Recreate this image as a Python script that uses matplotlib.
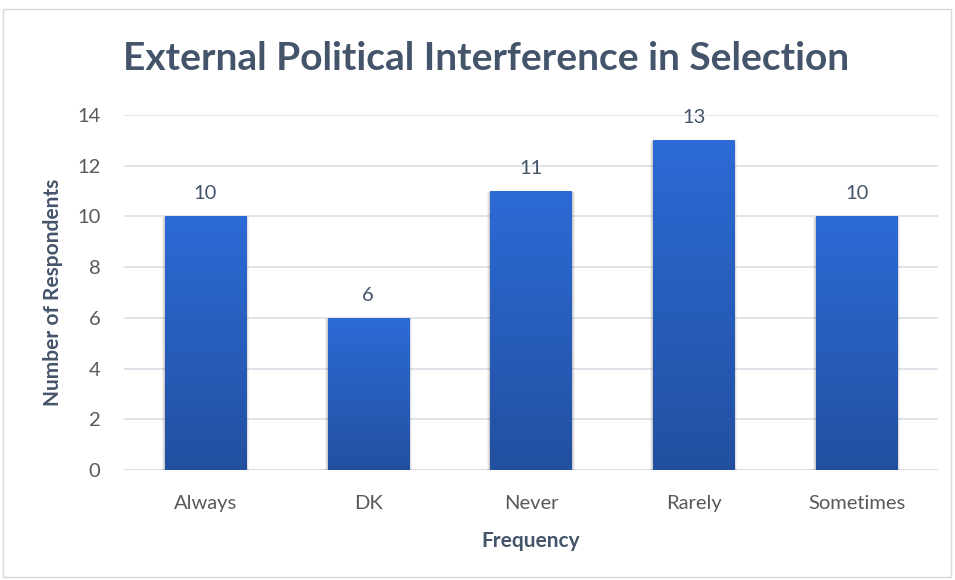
import numpy as np
import matplotlib
matplotlib.use("Agg")
import matplotlib.pyplot as plt
from matplotlib.patches import Rectangle
from matplotlib.colors import LinearSegmentedColormap

categories = ["Always", "DK", "Never", "Rarely", "Sometimes"]
respondents = [10, 6, 11, 13, 10]
y_ticks = [0, 2, 4, 6, 8, 10, 12, 14]

title_text = "External Political Interference in Selection"
x_title = "Frequency"
y_title = "Number of Respondents"

text_color = "#44546A"
tick_color = "#595959"
grid_color = "#D9DEE6"
font = "Lato"

fig = plt.figure(figsize=(9.55, 5.8), dpi=100)

# outer chart frame
fig.patches.append(Rectangle((3 / 955, 3 / 580), 948 / 955, 568 / 580,
                             transform=fig.transFigure, fill=False,
                             edgecolor="#D9D9D9", linewidth=1.0))

ax = fig.add_axes([124 / 955, 110 / 580, 814 / 955, 355 / 580])

for s in ax.spines.values():
    s.set_visible(False)
ax.set_yticks(y_ticks)
ax.yaxis.grid(True, color=grid_color, linewidth=1.2)
ax.set_axisbelow(True)
ax.axhline(0, color=grid_color, linewidth=1.5, zorder=1)
ax.tick_params(length=0)
ax.tick_params(axis="y", pad=17, labelsize=14.5, labelcolor=tick_color)
ax.tick_params(axis="x", pad=18, labelsize=14.5, labelcolor=tick_color)
ax.set_xticks(range(len(categories)))
ax.set_xticklabels(categories, fontfamily=font)
for lbl in ax.get_yticklabels():
    lbl.set_fontfamily(font)

cmap = LinearSegmentedColormap.from_list("bar", ["#2250A0", "#2C6AD6"])
grad = np.linspace(0, 1, 256).reshape(-1, 1)
width = 0.5
bars = ax.bar(range(len(categories)), respondents, width=width,
              color="none", edgecolor="none", zorder=3)
for rect, v in zip(bars, respondents):
    x0 = rect.get_x()
    # soft shadow
    for k, a in zip([0.06, 0.04, 0.02], [0.05, 0.07, 0.09]):
        ax.add_patch(Rectangle((x0 - k * 0.3, -0.05), width + k * 0.6, v + k * 0.5,
                               facecolor="black", alpha=a, edgecolor="none", zorder=2))
    im = ax.imshow(grad, cmap=cmap, origin="lower", aspect="auto",
                   extent=(x0, x0 + width, 0, v), zorder=3)
    im.set_clip_path(rect)
    ax.text(rect.get_x() + width / 2, v + 0.55, f"{v}", ha="center", va="bottom",
            fontsize=14.5, color=text_color, fontfamily=font)

ax.set_xlim(-0.5, len(categories) - 0.5)
ax.set_ylim(0, 14)

ax.set_xlabel(x_title, fontsize=15, fontweight="bold", color=text_color,
              fontfamily=font, labelpad=14)
ax.set_ylabel(y_title, fontsize=15, fontweight="bold", color=text_color,
              fontfamily=font, labelpad=10)

fig.text(486 / 955, 1 - 58 / 580, title_text, ha="center", va="center",
         fontsize=28, fontweight="bold", color=text_color, fontfamily=font)

fig.savefig("out.png", dpi=100)
